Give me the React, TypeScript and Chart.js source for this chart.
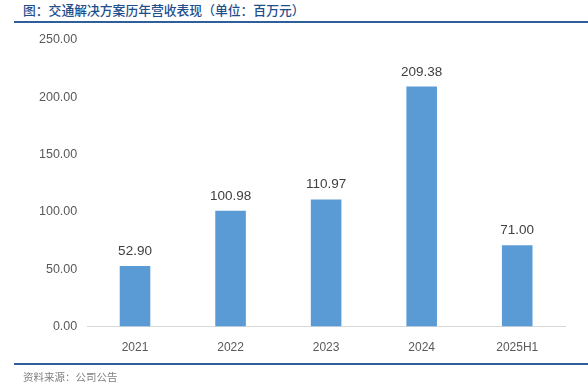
import React, { useEffect, useRef } from "react";
import { Chart, registerables } from "chart.js";

Chart.register(...registerables);

const categories = ["2021", "2022", "2023", "2024", "2025H1"];
const revenue = [52.9, 100.98, 110.97, 209.38, 71.0];
const yTicks = [0, 50, 100, 150, 200, 250];

const titleText = "图：交通解决方案历年营收表现（单位：百万元）";
const sourceText = "资料来源：公司公告";

const valueLabels = {
  id: "valueLabels",
  afterDatasetsDraw(chart: any) {
    const ctx = chart.ctx;
    const meta = chart.getDatasetMeta(0);
    ctx.save();
    ctx.font = "13.5px 'Liberation Sans', Arial, sans-serif";
    ctx.fillStyle = "#404040";
    ctx.textAlign = "center";
    ctx.textBaseline = "alphabetic";
    meta.data.forEach((bar: any, i: number) => {
      ctx.fillText(revenue[i].toFixed(2), bar.x, bar.y - 11);
    });
    ctx.restore();
  },
};

export default function App() {
  const ref = useRef<HTMLCanvasElement>(null);
  useEffect(() => {
    document.body.style.margin = "0";
    const chart = new Chart(ref.current!, {
      type: "bar",
      data: {
        labels: categories,
        datasets: [
          {
            data: revenue,
            backgroundColor: "#5B9BD5",
            borderWidth: 0,
            categoryPercentage: 0.8,
            barPercentage: 0.4,
          },
        ],
      },
      options: {
        animation: false,
        responsive: false,
        maintainAspectRatio: false,
        layout: { padding: { top: 40, left: 37, right: 23, bottom: 25 } },
        plugins: { legend: { display: false }, tooltip: { enabled: false } },
        scales: {
          x: {
            grid: { display: false },
            border: { display: true, color: "#D9D9D9", width: 1 },
            ticks: { color: "#595959", font: { size: 12, family: "'Liberation Sans', Arial, sans-serif" }, padding: 6 },
          },
          y: {
            min: 0,
            max: 250,
            afterBuildTicks: (axis: any) => {
              axis.ticks = yTicks.map((v) => ({ value: v }));
            },
            grid: { display: false },
            border: { display: false },
            ticks: {
              color: "#595959",
              font: { size: 12.5, family: "'Liberation Sans', Arial, sans-serif" },
              padding: 2,
              callback: (v: any) => Number(v).toFixed(2),
            },
          },
        },
      },
      plugins: [valueLabels],
    });
    return () => chart.destroy();
  }, []);

  return (
    <div style={{ position: "relative", width: 588, height: 386, background: "#fff", overflow: "hidden" }}>
      <div
        style={{
          position: "absolute",
          left: 23,
          top: 1,
          fontFamily: "'Noto Sans CJK SC', sans-serif",
          fontSize: 12.8,
          fontWeight: 500,
          color: "#1F4E8C",
          whiteSpace: "nowrap",
          lineHeight: "18px",
        }}
      >
        {titleText}
      </div>
      <div style={{ position: "absolute", left: 14, top: 21, width: 574, height: 2, background: "#2E5F9A" }} />
      <canvas ref={ref} width={588} height={386} style={{ position: "absolute", left: 0, top: 0 }} />
      <div style={{ position: "absolute", left: 14, top: 363, width: 574, height: 2, background: "#2E5F9A" }} />
      <div
        style={{
          position: "absolute",
          left: 23,
          top: 370,
          fontFamily: "'Noto Sans CJK SC', sans-serif",
          fontSize: 10.5,
          color: "#7F7F7F",
          whiteSpace: "nowrap",
          lineHeight: "14px",
        }}
      >
        {sourceText}
      </div>
    </div>
  );
}
